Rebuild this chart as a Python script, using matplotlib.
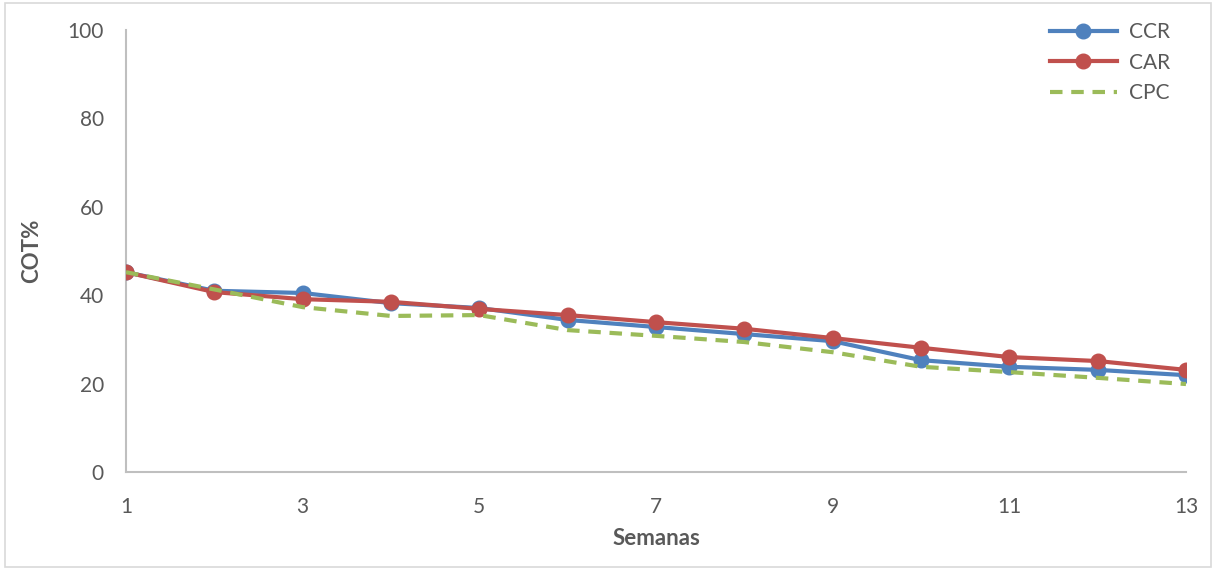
import matplotlib.pyplot as plt
from matplotlib.patches import Rectangle

semanas = [1, 2, 3, 4, 5, 6, 7, 8, 9, 10, 11, 12, 13]
ccr = [45.2, 41.0, 40.5, 38.2, 37.1, 34.4, 32.8, 31.2, 29.6, 25.3, 23.8, 23.1, 21.9]
car = [45.2, 40.7, 39.1, 38.5, 36.9, 35.5, 33.9, 32.4, 30.3, 28.1, 26.0, 25.1, 23.1]
cpc = [45.2, 41.3, 37.3, 35.3, 35.5, 32.1, 30.8, 29.4, 27.1, 23.8, 22.6, 21.3, 19.9]
x_ticks = [1, 3, 5, 7, 9, 11, 13]
y_ticks = [0, 20, 40, 60, 80, 100]

plt.rcParams["font.family"] = ["Lato", "DejaVu Sans"]
txt = "#595959"

fig = plt.figure(figsize=(12.16, 5.69), dpi=100)
ax = fig.add_axes([0.1036, 0.1705, 0.8717, 0.7768])

# marco del grafico
fig.patches.append(Rectangle((0.004, 0.004), 0.992, 0.99, transform=fig.transFigure,
                             fill=False, edgecolor="#d9d9d9", linewidth=1.2))

ax.plot(semanas, ccr, color="#4f81bd", linewidth=3, marker="o", markersize=10.5,
        label="CCR", zorder=3)
ax.plot(semanas, car, color="#c0504d", linewidth=3, marker="o", markersize=10.5,
        label="CAR", zorder=4)
ax.plot(semanas, cpc, color="#9bbb59", linewidth=3, linestyle=(0, (3, 2.1)),
        label="CPC", zorder=5)

ax.set_xlim(1, 13)
ax.set_ylim(0, 100)
ax.set_xticks(x_ticks)
ax.set_yticks(y_ticks)
ax.tick_params(length=0, labelsize=15, colors=txt)
ax.tick_params(axis="x", pad=18)
ax.tick_params(axis="y", pad=16)
for s in ["top", "right"]:
    ax.spines[s].set_visible(False)
for s in ["left", "bottom"]:
    ax.spines[s].set_color("#bfbfbf")
    ax.spines[s].set_linewidth(1.5)

ax.set_xlabel("Semanas", fontsize=16, fontweight="bold", color=txt, labelpad=8)
ax.set_ylabel("COT%", fontsize=16, fontweight="bold", color=txt, labelpad=18)

leg = ax.legend(loc="upper right", bbox_to_anchor=(1.003, 1.06), frameon=False,
                fontsize=15, handlelength=3.2, handletextpad=0.6, labelspacing=0.5)
for t in leg.get_texts():
    t.set_color(txt)

fig.savefig("out.png", dpi=100)
